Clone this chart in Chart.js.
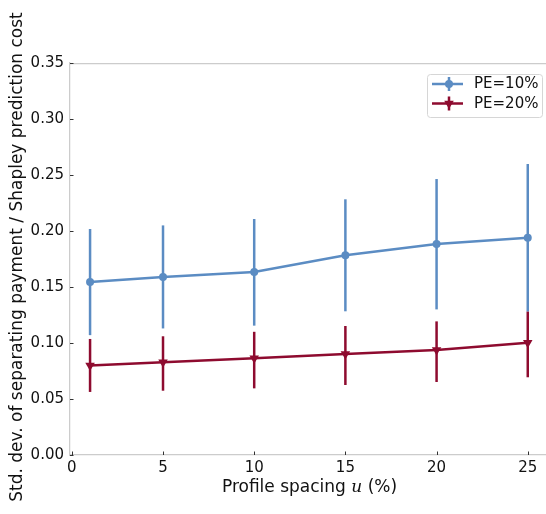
<!DOCTYPE html>
<html>
<head>
<meta charset="utf-8">
<script src="https://cdn.jsdelivr.net/npm/chart.js@4.4.1/dist/chart.umd.min.js"></script>
<style>
  html, body { margin: 0; padding: 0; background: #fff; }
  canvas { display: block; }
</style>
</head>
<body>
<canvas id="chart" width="546" height="514"></canvas>
<script>
// profile spacing u (%)
const spacing = [1, 5, 10, 15, 20, 25];
const xTicks = [0, 5, 10, 15, 20, 25];
const yTicks = [0, 0.05, 0.10, 0.15, 0.20, 0.25, 0.30, 0.35];

// PE=10%: mean and error bar ends
const pe10Mean = [0.1545, 0.159, 0.1634, 0.1783, 0.1884, 0.194];
const pe10Low  = [0.107, 0.113, 0.1155, 0.1283, 0.130, 0.128];
const pe10High = [0.2018, 0.205, 0.2107, 0.2283, 0.2464, 0.2598];

// PE=20%
const pe20Mean = [0.080, 0.0828, 0.0863, 0.0902, 0.0937, 0.1003];
const pe20Low  = [0.0563, 0.0574, 0.0595, 0.0625, 0.0652, 0.0694];
const pe20High = [0.1036, 0.106, 0.110, 0.1152, 0.1193, 0.128];

const labels = ['PE=10%', 'PE=20%'];

const BLUE = '#5b8cc3';
const RED = '#8e0b2f';
const SPINE = '#cccccc';
const FONT = '"DejaVu Sans", sans-serif';

const toPoints = ys => spacing.map((x, i) => ({ x: x, y: ys[i] }));

// vertical error bars, drawn under each dataset's line
const errorBars = {
    id: 'errorBars',
    beforeDatasetDraw(chart, args) {
        const ds = chart.data.datasets[args.index];
        const yScale = chart.scales.y;
        const ctx = chart.ctx;
        ctx.save();
        ctx.strokeStyle = ds.borderColor;
        ctx.lineWidth = 2.5;
        args.meta.data.forEach((pt, i) => {
            ctx.beginPath();
            ctx.moveTo(pt.x, yScale.getPixelForValue(ds.errLow[i]));
            ctx.lineTo(pt.x, yScale.getPixelForValue(ds.errHigh[i]));
            ctx.stroke();
        });
        ctx.restore();
    }
};

// top spine, inward ticks, axis titles and legend box
const frame = {
    id: 'frame',
    afterDraw(chart) {
        const ctx = chart.ctx;
        const a = chart.chartArea;
        const xs = chart.scales.x, ys = chart.scales.y;
        ctx.save();

        ctx.strokeStyle = SPINE;
        ctx.lineWidth = 1.25;
        ctx.beginPath();
        ctx.moveTo(a.left, a.top + 0.5);
        ctx.lineTo(a.right, a.top + 0.5);
        ctx.stroke();

        ctx.strokeStyle = '#333';
        ctx.lineWidth = 1;
        xTicks.forEach(v => {
            const px = Math.round(xs.getPixelForValue(v)) + 0.5;
            ctx.beginPath();
            ctx.moveTo(px, a.bottom);
            ctx.lineTo(px, a.bottom - 3.5);
            ctx.stroke();
        });
        yTicks.forEach(v => {
            const py = Math.round(ys.getPixelForValue(v)) + 0.5;
            ctx.beginPath();
            ctx.moveTo(a.left, py);
            ctx.lineTo(a.left + 3.5, py);
            ctx.stroke();
        });

        // x title with italic u
        ctx.fillStyle = '#111';
        ctx.textBaseline = 'alphabetic';
        const partA = 'Profile spacing ';
        const partU = 'u';
        const partB = ' (%)';
        const fSans = '17px ' + FONT;
        const fIt = 'italic 17px "DejaVu Serif", serif';
        ctx.font = fSans;
        const wA = ctx.measureText(partA).width;
        const wB = ctx.measureText(partB).width;
        ctx.font = fIt;
        const wU = ctx.measureText(partU).width;
        const tx = 309.5 - (wA + wU + wB) / 2;
        const ty = 492;
        ctx.font = fSans;
        ctx.textAlign = 'left';
        ctx.fillText(partA, tx, ty);
        ctx.font = fIt;
        ctx.fillText(partU, tx + wA, ty);
        ctx.font = fSans;
        ctx.fillText(partB, tx + wA + wU, ty);

        // y title
        ctx.save();
        ctx.translate(18, 257);
        ctx.rotate(-Math.PI / 2);
        ctx.textAlign = 'center';
        ctx.textBaseline = 'middle';
        ctx.font = fSans;
        ctx.fillText('Std. dev. of separating payment / Shapley prediction cost', 0, 0);
        ctx.restore();

        // legend
        const lx = 427, ly = 74, lw = 115, lh = 43;
        ctx.fillStyle = 'rgba(255,255,255,0.9)';
        ctx.strokeStyle = '#d6d6d6';
        ctx.lineWidth = 1;
        ctx.beginPath();
        ctx.roundRect(lx + 0.5, ly + 0.5, lw, lh, 3);
        ctx.fill();
        ctx.stroke();

        chart.data.datasets.forEach((ds, i) => {
            const rowY = 84 + i * 19.5;
            ctx.strokeStyle = ds.borderColor;
            ctx.fillStyle = ds.borderColor;
            ctx.lineWidth = 2.5;
            ctx.beginPath();
            ctx.moveTo(432, rowY);
            ctx.lineTo(463, rowY);
            ctx.moveTo(449, rowY - 7);
            ctx.lineTo(449, rowY + 7);
            ctx.stroke();
            Chart.helpers.drawPoint(ctx, {
                pointStyle: ds.pointStyle,
                radius: ds.pointRadius,
                rotation: ds.pointRotation || 0,
                borderWidth: 0
            }, 449, rowY);
            ctx.fillStyle = '#111';
            ctx.font = '15px ' + FONT;
            ctx.textAlign = 'left';
            ctx.textBaseline = 'middle';
            ctx.fillText(labels[i], 474, rowY + 0.5);
        });

        ctx.restore();
    }
};

new Chart(document.getElementById('chart'), {
    type: 'line',
    data: {
        datasets: [
            {
                label: labels[0],
                data: toPoints(pe10Mean),
                errLow: pe10Low,
                errHigh: pe10High,
                borderColor: BLUE,
                backgroundColor: BLUE,
                borderWidth: 2.5,
                pointStyle: 'circle',
                pointRadius: 4,
                pointBorderWidth: 0,
                order: 2
            },
            {
                label: labels[1],
                data: toPoints(pe20Mean),
                errLow: pe20Low,
                errHigh: pe20High,
                borderColor: RED,
                backgroundColor: RED,
                borderWidth: 2.5,
                pointStyle: 'triangle',
                pointRotation: 180,
                pointRadius: 5.5,
                pointBorderWidth: 0,
                order: 1
            }
        ]
    },
    options: {
        responsive: false,
        animation: false,
        layout: { autoPadding: false, padding: { top: 63, right: 0, left: 0, bottom: 0 } },
        plugins: {
            legend: { display: false },
            tooltip: { enabled: false }
        },
        scales: {
            x: {
                type: 'linear',
                min: -0.1,
                max: 26,
                afterBuildTicks: s => { s.ticks = xTicks.map(v => ({ value: v })); },
                afterFit: s => { s.height = 59; },
                grid: { display: false, drawTicks: false },
                border: { color: SPINE, width: 1.25 },
                ticks: {
                    padding: 4,
                    color: '#111',
                    font: { family: FONT, size: 15 },
                    maxRotation: 0
                }
            },
            y: {
                min: 0,
                max: 0.35,
                afterBuildTicks: s => { s.ticks = yTicks.map(v => ({ value: v })); },
                afterFit: s => { s.width = 70; },
                grid: { display: false, drawTicks: false },
                border: { color: SPINE, width: 1.25 },
                ticks: {
                    padding: 6,
                    color: '#111',
                    font: { family: FONT, size: 15 },
                    callback: v => v.toFixed(2)
                }
            }
        }
    },
    plugins: [errorBars, frame]
});
</script>
</body>
</html>
